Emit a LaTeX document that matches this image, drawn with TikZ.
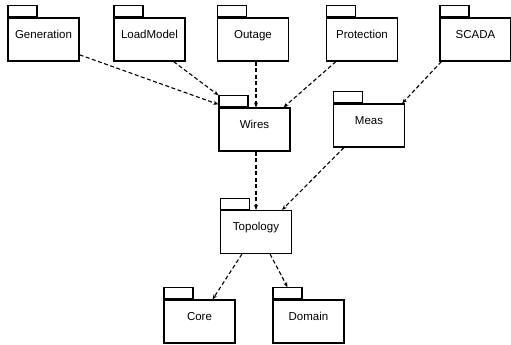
\documentclass[tikz,border=0pt]{standalone}
\usepackage{fontspec}
\setmainfont{Liberation Sans}
\usetikzlibrary{positioning,arrows.meta}
\begin{document}
\begin{tikzpicture}[x=1pt,y=-1pt,
		pkg/.style={draw,line width=1.2pt,minimum width=71pt,minimum height=43pt,inner sep=0pt,
			text height=12pt,text depth=15pt,font=\fontsize{11.5}{13}\selectfont},
		pkgtab/.style={draw,line width=1.2pt,minimum width=29pt,minimum height=11pt,inner sep=0pt},
		dep/.style={-{Stealth[length=5pt,width=4pt]},line width=1.1pt,dash pattern=on 4pt off 2.5pt}]
		\useasboundingbox (0,0) rectangle (511,345);
		
		% top row
		\node [pkg] (gen) at (43.5,39.5) {Generation};
		\node [pkg] (load) at (149.5,39.5) {LoadModel};
		\node [pkg] (outage) at (253,39.5) {Outage};
		\node [pkg] (prot) at (362,39.5) {Protection};
		\node [pkg] (scada) at (475.5,39.5) {SCADA};
		
		% middle
		\node [pkg] (wires) at (254.5,129.5) {Wires};
		\node [pkg] (meas) at (369,125.5) {Meas};
		\node [pkg] (topo) at (256,232) {Topology};
		
		% bottom row
		\node [pkg] (core) at (199.5,321.5) {Core};
		\node [pkg] (domain) at (308.5,321.5) {Domain};
		
		% tabs
		\node [pkgtab,above right=0pt and 0pt of gen.north west] (gen-tab) {};
		\node [pkgtab,above right=0pt and 0pt of load.north west] (load-tab) {};
		\node [pkgtab,above right=0pt and 0pt of outage.north west] (outage-tab) {};
		\node [pkgtab,above right=0pt and 0pt of prot.north west] (prot-tab) {};
		\node [pkgtab,above right=0pt and 0pt of scada.north west] (scada-tab) {};
		\node [pkgtab,above right=0pt and 0pt of wires.north west] (wires-tab) {};
		\node [pkgtab,above right=0pt and 0pt of meas.north west] (meas-tab) {};
		\node [pkgtab,above right=0pt and 0pt of topo.north west] (topo-tab) {};
		\node [pkgtab,above right=0pt and 0pt of core.north west] (core-tab) {};
		\node [pkgtab,above right=0pt and 0pt of domain.north west] (domain-tab) {};
		
		% dependencies
		\draw [dep] (gen.-23) -- ([yshift=3pt]wires.north west);
		\draw [dep] ([xshift=-12pt]load.south east) -- (wires-tab.north west);
		\draw [dep] ([xshift=3pt]outage.south) -- ([xshift=3pt]outage.south |- wires.north);
		\draw [dep] ([xshift=10pt]prot.south west) -- ([xshift=-7pt]wires.north east);
		\draw [dep] ([xshift=2pt]scada.south west) -- ([xshift=-3pt]meas.north east);
		\draw [dep] ([xshift=1.5pt]wires.south) -- ([xshift=1.5pt]wires.south |- topo.north);
		\draw [dep] ([xshift=11pt]meas.south west) -- ([xshift=-10pt]topo.north east);
		\draw [dep] ([xshift=22pt]topo.south west) -- ([xshift=-23pt]core.north east);
		\draw [dep] ([xshift=-22pt]topo.south east) -- (domain-tab.north);
	\end{tikzpicture}
\end{document}
